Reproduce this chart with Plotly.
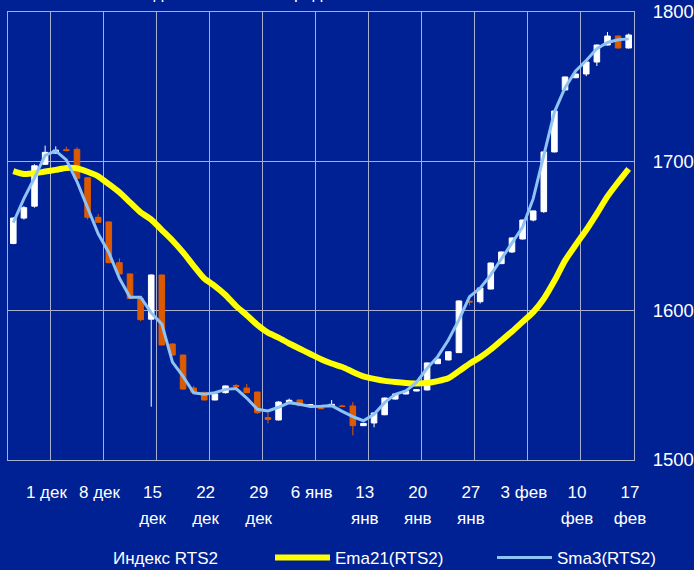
import plotly.graph_objects as go

# ---------------- data ----------------
open_ = [1645, 1662, 1670, 1698, 1705.5, 1707.8, 1708, 1689, 1662.5, 1659.4,
         1632.1, 1624.6, 1608.1, 1594.3, 1623.9, 1577.7, 1570.3, 1548.2, 1545.3, 1540.2,
         1545.1, 1549.9, 1548.2, 1545.5, 1528.4, 1526.8, 1538.8, 1540.2, 1536.3, 1534.9,
         1536.0, 1536.2, 1536.2, 1523.0, 1524.8, 1530.3, 1540.8, 1544.2, 1546.2, 1546.9,
         1564.5, 1567.0, 1571.9, 1606.3, 1606.0, 1614.5, 1631.5, 1639.3, 1648.0, 1660.7,
         1666.3, 1706.3, 1747.8, 1756.0, 1758.5, 1766.5, 1777.9, 1783.9, 1775.9]
high = [1662.5, 1670, 1698, 1710.5, 1710, 1709.8, 1709.4, 1689.5, 1664.7, 1659.6,
        1635, 1624.8, 1608.3, 1624.2, 1624.1, 1577.9, 1570.5, 1549.6, 1545.5, 1544.6,
        1549.8, 1550.9, 1550.9, 1545.8, 1531.7, 1539.5, 1541.1, 1540.4, 1537.5, 1535.2,
        1540.2, 1537.0, 1538.8, 1524.8, 1531.8, 1541.8, 1544.5, 1546.5, 1547.4, 1565.3,
        1567.9, 1572.8, 1607.0, 1606.5, 1615.5, 1632.2, 1639.6, 1649.0, 1661.0, 1667.1,
        1706.6, 1734.0, 1756.8, 1758.8, 1766.8, 1778.2, 1786.6, 1784.2, 1785.6]
low = [1644.5, 1661, 1669, 1697.5, 1705, 1706.8, 1688, 1661, 1659, 1631.8,
       1624.4, 1607.8, 1593, 1535.7, 1576.8, 1570, 1547.2, 1545, 1540, 1540,
       1544.5, 1549, 1544.8, 1530.8, 1524.5, 1526.5, 1538.5, 1536, 1536, 1534,
       1535.8, 1535.5, 1516.5, 1522.7, 1521.9, 1530, 1540.5, 1544, 1546, 1546.6,
       1564.2, 1566.7, 1571.6, 1603.5, 1604.8, 1614.2, 1631.2, 1638.6, 1647.7, 1659.8,
       1665.5, 1706.0, 1747.5, 1755.7, 1757.0, 1763.8, 1777.6, 1775.6, 1775.6]
close = [1662, 1669, 1697, 1706, 1707.5, 1707.2, 1688.6, 1662.5, 1659.2, 1632.1,
         1624.6, 1608.1, 1594, 1623.9, 1577, 1570.3, 1547.5, 1545.3, 1540.2, 1544.2,
         1549.6, 1549.3, 1545.1, 1531.7, 1527.2, 1538.8, 1540.0, 1536.4, 1537.0, 1534.4,
         1537.3, 1535.8, 1523.0, 1524.5, 1531.5, 1541.5, 1544.2, 1546.2, 1547.1, 1565.0,
         1567.6, 1572.5, 1606.5, 1605.8, 1615.2, 1631.9, 1639.3, 1648.7, 1660.7, 1666.8,
         1706.3, 1733.7, 1756.5, 1758.5, 1766.5, 1777.9, 1783.9, 1775.9, 1784.6]
ema21 = [1693.5, 1691.5, 1692, 1693.2, 1694.3, 1695.6, 1695.4, 1693, 1690, 1684.8,
         1679.3, 1672.5, 1665.8, 1661, 1654, 1647, 1639, 1630, 1621.5, 1616.5,
         1610.5, 1603, 1597, 1590.5, 1585.3, 1582, 1578, 1574.5, 1571, 1567.5,
         1564.6, 1562.3, 1559, 1556, 1554.3, 1553, 1552.2, 1551.6, 1551.3, 1551.6,
         1552.8, 1554.7, 1559.5, 1564.5, 1568.8, 1574, 1580, 1586, 1592.5, 1599,
         1608, 1620, 1633.5, 1644, 1654, 1665, 1676.5, 1686, 1695]
sma3 = [1659, 1675, 1689, 1704, 1707, 1701, 1686.5, 1669, 1651.5, 1639,
        1621.7, 1609, 1609, 1598.5, 1591, 1565.5, 1556, 1545, 1544, 1545,
        1547.3, 1547.8, 1541.5, 1534, 1532.8, 1535.3, 1538.4, 1537.3, 1535.8, 1536,
        1536.4, 1532.6, 1529, 1526.3, 1530.6, 1538.4, 1544, 1546.2, 1552, 1561.4,
        1569.2, 1580.4, 1593.8, 1609.4, 1615, 1624, 1634.4, 1645, 1656, 1675,
        1704, 1733, 1749.3, 1760.6, 1767.5, 1775.5, 1779.6, 1781.4, 1782]

tick_line1 = ["1 дек", "8 дек", "15", "22", "29", "6 янв", "13", "20", "27", "3 фев", "10", "17"]
tick_line2 = ["", "", "дек", "дек", "дек", "", "янв", "янв", "янв", "", "фев", "фев"]
y_ticks = [1500, 1600, 1700, 1800]

series_names = ["Индекс RTS2", "Ema21(RTS2)", "Sma3(RTS2)"]
title_text = "Индекс RTS2 и его средние"

# ---------------- styling ----------------
BG = "#002194"
GRID = "#A9AFCF"
ORANGE = "#DD5B00"
YELLOW = "#FFFF00"
LBLUE = "#8EC3F3"
FONT = "Liberation Sans"

n = len(close)
x = list(range(n))
tick_pos = [-0.5] + [3.5 + 5 * k for k in range(len(tick_line1))]

fig = go.Figure()

fig.add_trace(go.Candlestick(
    x=x, open=open_, high=high, low=low, close=close,
    name=series_names[0], showlegend=False,
    increasing=dict(fillcolor="#FFFFFF", line=dict(color="#FFFFFF", width=1)),
    decreasing=dict(fillcolor=ORANGE, line=dict(color=ORANGE, width=1)),
    hoverinfo="skip",
))
# legend entry for the index (no visible symbol in the original)
fig.add_trace(go.Scatter(
    x=[None], y=[None], mode="lines", name=series_names[0], legend="legend",
    line=dict(color="rgba(0,0,0,0)", width=1),
))
fig.add_trace(go.Scatter(
    x=x, y=ema21, mode="lines", name=series_names[1], legend="legend2",
    line=dict(color=YELLOW, width=6, shape="spline", smoothing=0.6),
))
fig.add_trace(go.Scatter(
    x=x, y=sma3, mode="lines", name=series_names[2], legend="legend3",
    line=dict(color=LBLUE, width=3),
))
# dummy trace for the second row of x tick labels
fig.add_trace(go.Scatter(x=[None], y=[None], xaxis="x2", showlegend=False, hoverinfo="skip"))


def leg(text_left_px):
    return dict(
        orientation="h", xref="container", yref="container",
        x=(text_left_px - 66) / 694, y=0.021, xanchor="left", yanchor="middle",
        font=dict(family=FONT, size=17, color="#FFFFFF"),
        itemwidth=55, bgcolor="rgba(0,0,0,0)",
    )


fig.update_layout(
    width=694, height=570,
    paper_bgcolor=BG, plot_bgcolor=BG,
    margin=dict(l=8, r=60, t=12, b=110, autoexpand=False),
    font=dict(family=FONT, color="#FFFFFF", size=17),
    boxgap=0.25,
    showlegend=True,
    legend=leg(114),
    legend2=leg(336),
    legend3=leg(558),
    xaxis=dict(
        range=[-0.5, n - 0.5], tickmode="array",
        tickvals=tick_pos, ticktext=[""] + tick_line1,
        showgrid=True, gridcolor=GRID, gridwidth=1,
        showline=True, linecolor=GRID, linewidth=1, mirror=True,
        zeroline=False, ticks="", ticklabelstandoff=17, ticklabelshift=-4,
        tickfont=dict(family=FONT, size=17, color="#FFFFFF"),
        rangeslider=dict(visible=False), fixedrange=True, automargin=False,
    ),
    xaxis2=dict(
        range=[-0.5, n - 0.5], overlaying="x", anchor="y", side="bottom",
        tickmode="array", tickvals=tick_pos, ticktext=[""] + tick_line2,
        showgrid=False, showline=False, zeroline=False, ticks="",
        ticklabelstandoff=46, ticklabelshift=-4, automargin=False,
        tickfont=dict(family=FONT, size=17, color="#FFFFFF"),
    ),
    yaxis=dict(
        range=[1500, 1800], side="right", tickmode="array", tickvals=y_ticks,
        showgrid=True, gridcolor=GRID, gridwidth=1,
        showline=True, linecolor=GRID, linewidth=1, mirror=True,
        zeroline=False, ticks="", ticklabelstandoff=14, automargin=False,
        tickfont=dict(family=FONT, size=18.5, color="#FFFFFF"),
    ),
    annotations=[dict(
        text=title_text, xref="paper", yref="paper",
        x=(130 - 8) / 626, y=1 + 7 / 448, xanchor="left", yanchor="bottom",
        showarrow=False, font=dict(family=FONT, size=17, color="#FFFFFF"),
    )],
)

fig.write_html(
    "out.html",
    config={"displayModeBar": False},
    post_script="document.body.style.margin='0';document.body.style.background='%s';" % BG,
)
